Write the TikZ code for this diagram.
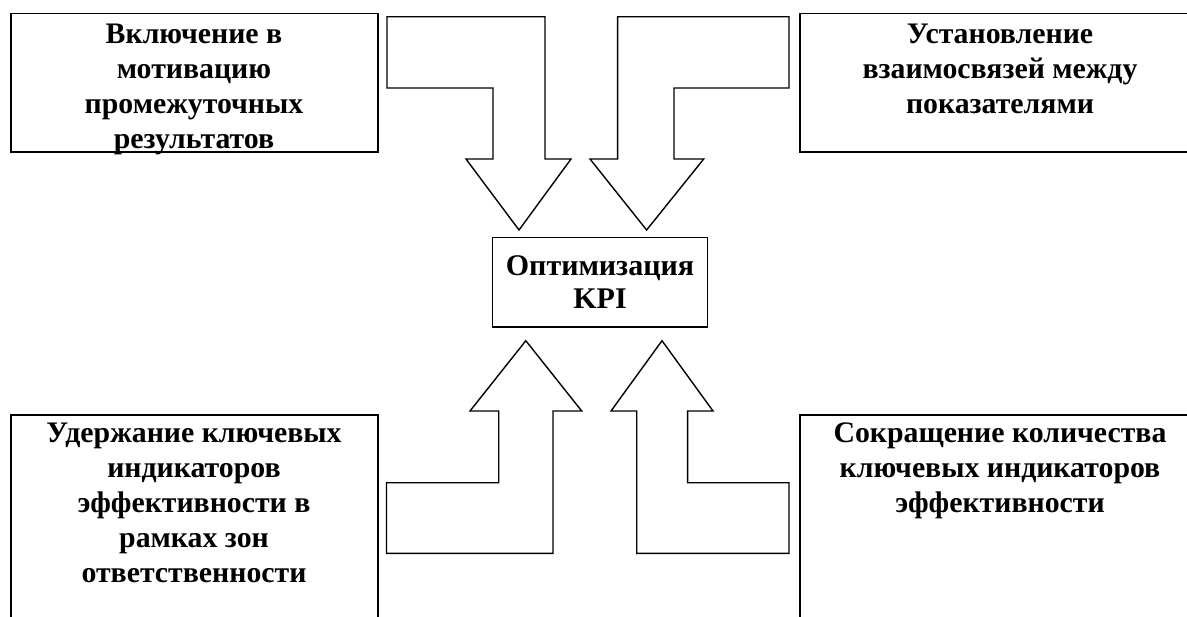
\documentclass[tikz,border=0pt]{standalone}
\usepackage{fontspec}
\setmainfont{Liberation Serif}
\tikzset{
  box/.style={draw, line width=0.8pt},
  blockarrow/.style={draw, line width=0.7pt, fill=white},
  boxtext/.style={anchor=north, align=center, inner sep=0pt,
    font=\fontsize{14.9}{17.5}\selectfont\bfseries},
}
\begin{document}
\begin{tikzpicture}[x=0.5pt,y=-0.5pt]
            \newcommand{\leftx}{10.7}
            \newcommand{\rightx}{800}
            \newcommand{\boxw}{367.3}
            \newcommand{\toprow}{13.3}
            \newcommand{\botrow}{415}
            \useasboundingbox (0,0) rectangle (1187,616);
            \clip (0,0) rectangle (1187,616);
            % the four outer boxes
            \draw[box] (\leftx,\toprow) rectangle (\leftx+\boxw,151.7)
            (\rightx,\toprow) rectangle (\rightx+\boxw+40,151.7)
            (\leftx,\botrow) rectangle (\leftx+\boxw,640)
            (\rightx,\botrow) rectangle (\rightx+\boxw+40,640);
            \node[boxtext] (incl) at (194,\toprow+5.5) {\strut Включение в\\мотивацию\\промежуточных\\результатов};
            \node[boxtext] (links) at (1000,\toprow+5.5) {\strut Установление\\взаимосвязей между\\показателями};
            \node[boxtext] (keep) at (194,\botrow+3) {\strut Удержание ключевых\\индикаторов\\эффективности в\\рамках зон\\ответственности};
            \node[boxtext] (reduce) at (1000,\botrow+3) {\strut Сокращение количества\\ключевых индикаторов\\эффективности};
            % centre
            \node[box, minimum width=107.5pt, minimum height=44.75pt, align=center,
              font=\fontsize{15}{16.5}\selectfont\bfseries] (kpi) at (600,282.3) {Оптимизация\\KPI};
            % block arrows
            \draw[blockarrow] (387,16.7) -- (545,16.7) -- (545,159) -- (571,159) -- (519,230)
            -- (466,159) -- (493,159) -- (493,88) -- (387,88) -- cycle;
            \draw[blockarrow] (789,16.7) -- (617.6,16.7) -- (617.6,159) -- (590,159) -- (646.6,230)
            -- (703.7,159) -- (674,159) -- (674,88) -- (789,88) -- cycle;
            \draw[blockarrow] (525.8,340.7) -- (581.7,411) -- (553,411) -- (553,553.3) -- (386.5,553.3)
            -- (386.5,482.7) -- (498.7,482.7) -- (498.7,411) -- (470,411) -- cycle;
            \draw[blockarrow] (662,340.7) -- (713,411) -- (687.6,411) -- (687.6,482.7) -- (789,482.7)
            -- (789,553.3) -- (636.7,553.3) -- (636.7,411) -- (611,411) -- cycle;
\end{tikzpicture}
\end{document}
